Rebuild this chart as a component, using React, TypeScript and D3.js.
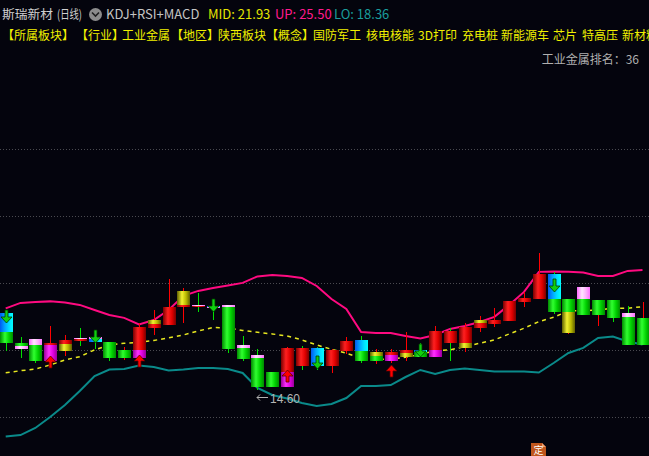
import React from "react";
import * as d3 from "d3";

const W = 649;
const H = 456;

// ---- header ----
const stockName = "斯瑞新材";
const periodName = "(日线)";
const indicatorName = "KDJ+RSI+MACD";
const midValue = 21.93;
const upValue = 25.5;
const loValue = 18.36;
const sectorTags = ["【所属板块】", "【行业】", "工业金属", "【地区】", "陕西板块", "【概念】", "国防军工", "核电核能", "3D打印", "充电桩", "新能源车", "芯片", "特高压", "新材料"];
const sectorTagX = [2, 76, 122, 171, 218, 266, 313, 366, 418, 462, 501, 553, 582, 622];
const rankLabel = "工业金属排名：36";

// ---- bars (prices) ----
const highs = [21.78, 19.42, 19.24, 20.42, 19.6, 20.24, 20.05, 18.96, 18.51, 20.69, 21.87, 24.69, 23.87, 23.42, 22.87, 22.33, 19.51, 18.33, 16.24, 18.51, 18.6, 18.51, 18.33, 19.42, 19.51, 18.33, 18.33, 19.87, 18.87, 20.42, 20.24, 20.69, 21.33, 22.05, 22.69, 23.51, 27.05, 25.33, 22.87, 23.96, 22.78, 22.78, 22.24, 22.6];
const lows = [18.15, 17.51, 17.05, 17.24, 17.69, 18.6, 18.33, 17.24, 17.33, 17.51, 19.6, 20.51, 20.69, 21.69, 20.96, 17.96, 17.24, 14.6, 14.87, 14.87, 16.42, 16.42, 16.15, 17.87, 17.05, 16.96, 17.05, 17.24, 17.6, 17.6, 17.24, 18.05, 19.87, 20.33, 20.87, 22.15, 22.87, 21.51, 19.69, 21.42, 20.42, 20.78, 18.69, 18.69];
const bodyTops = [21.6, 18.87, 19.24, 18.87, 19.15, 19.33, 19.42, 18.96, 18.24, 20.33, 20.96, 22.15, 23.6, 22.33, 22.24, 22.33, 18.69, 17.78, 16.24, 18.42, 18.42, 18.42, 18.24, 19.05, 19.15, 18.05, 18.05, 18.24, 18.24, 19.96, 19.96, 20.33, 20.96, 20.96, 22.69, 22.96, 25.15, 25.15, 22.87, 23.96, 22.78, 22.78, 21.6, 21.15];
// price where the upper colour segment meets the lower one
const bodySplits = [19.87, 18.6, 18.69, 18.69, 18.78, 19.24, 19.24, 17.51, 17.51, 18.24, 20.6, 20.51, 22.33, 22.24, 22.15, 22.15, 18.42, 17.51, 14.87, 16.24, 16.78, 16.78, 16.78, 18.15, 18.15, 17.69, 17.78, 17.96, 18.05, 18.24, 18.87, 18.87, 20.69, 20.6, 20.87, 22.6, 22.87, 22.87, 21.69, 22.87, 21.42, 21.15, 21.24, 18.69];
const bodyBottoms = [18.87, 18.33, 17.24, 17.24, 18.15, 19.05, 18.96, 17.51, 17.51, 17.51, 20.24, 20.51, 22.15, 22.15, 22.05, 18.33, 17.42, 14.87, 14.87, 14.87, 16.78, 16.78, 16.78, 18.15, 17.24, 17.24, 17.24, 17.6, 17.6, 17.6, 18.87, 18.42, 20.24, 20.6, 20.87, 22.6, 22.87, 21.69, 19.78, 21.42, 21.42, 21.15, 18.69, 18.69];
const upperColors = ["cyan", "green", "pink", "red", "red", "pink", "pink", "green", "green", "red", "yellow", "red", "yellow", "pink", "cyan", "pink", "pink", "pink", "green", "red", "red", "cyan", "red", "red", "cyan", "yellow", "red", "red", "cyan", "red", "red", "red", "yellow", "red", "red", "red", "red", "cyan", "green", "pink", "green", "green", "pink", "green"];
const lowerColors = ["green", "pink", "green", "magenta", "yellow", "red", "cyan", "green", "green", "magenta", "red", "red", "red", "red", "pink", "green", "green", "green", "green", "magenta", "red", "cyan", "red", "red", "green", "green", "magenta", "yellow", "green", "magenta", "red", "yellow", "red", "red", "red", "red", "red", "green", "yellow", "green", "green", "green", "green", "green"];
const wickColors = ["green", "green", "green", "red", "red", "green", "green", "green", "red", "red", "red", "red", "red", "green", "green", "green", "green", "green", "green", "red", "green", "green", "red", "red", "green", "red", "red", "red", "green", "red", "green", "red", "red", "red", "red", "red", "red", "green", "red", "green", "red", "green", "green", "red"];

// ---- Bollinger bands ----
const bollUp = [22.01, 22.51, 22.6, 22.65, 22.55, 22.33, 21.87, 21.42, 21.15, 20.55, 20.96, 21.87, 23.15, 23.6, 23.87, 24.1, 24.33, 24.92, 25.05, 24.96, 24.78, 24.05, 22.87, 21.96, 19.87, 19.78, 19.78, 19.51, 19.28, 19.6, 20.15, 20.42, 20.78, 21.24, 22.33, 23.51, 25.33, 25.37, 25.33, 25.28, 24.96, 24.96, 25.42, 25.5];
const bollMid = [16.17, 16.35, 16.51, 16.87, 17.33, 17.63, 18.24, 18.69, 18.85, 18.92, 19.1, 19.33, 19.6, 19.96, 20.28, 20.24, 20.01, 19.85, 19.69, 19.51, 19.15, 18.69, 18.3, 17.94, 17.48, 17.39, 17.39, 17.57, 17.83, 18.17, 18.24, 18.54, 18.85, 19.15, 19.69, 20.21, 20.81, 21.21, 21.78, 21.81, 21.87, 22.03, 22.03, 22.17];
const bollLo = [10.37, 10.51, 11.15, 12.15, 13.24, 14.51, 15.87, 16.46, 16.51, 16.83, 16.69, 16.37, 16.46, 16.6, 16.6, 16.51, 16.15, 14.78, 14.15, 13.83, 13.42, 13.15, 13.33, 13.87, 14.96, 14.96, 15.05, 15.78, 16.42, 16.05, 16.42, 16.55, 16.42, 16.28, 16.28, 16.28, 16.19, 17.05, 17.96, 18.42, 19.33, 19.46, 19.01, 18.74];

// ---- signals ----
const buyBars = [3, 9, 19, 26];
const buyPrices = [17.69, 17.78, 16.42, 16.87];
const sellBars = [0, 6, 14, 21, 28, 37];
const sellPrices = [20.69, 18.87, 21.69, 16.51, 17.6, 23.51];
const lowBar = 17;
const lowPrice = 14.6;

const gradients: Record<string, string[]> = {
  red: ["#7a0000", "#ff2020", "#e00000", "#7a0000"],
  green: ["#008a00", "#30ff30", "#00d000", "#008a00"],
  yellow: ["#5e5e00", "#f2f230", "#b8b800", "#5e5e00"],
  cyan: ["#0058f0", "#00a8ff", "#00e0ff", "#00ffff"],
  pink: ["#ff66ff", "#ffe6ff", "#ffb0ff", "#ff70ff"],
  magenta: ["#9a009a", "#ff30ff", "#e000e0", "#9a009a"],
};
const wickPalette: Record<string, string> = { red: "#ff0000", green: "#00e000" };

const gridTop = 149;
const gridStep = 67;
const gridCount = 5;

export default function App() {
  const x = d3.scaleLinear().domain([0, highs.length - 1]).range([5.7, 642.5]);
  const y = d3.scaleLinear().domain([lowPrice, upValue]).range([390, 270]);
  const bodyW = 13;

  const line = (vals: number[]) =>
    d3.line<number>().x((_, i) => x(i)).y((d) => y(d)).curve(d3.curveLinear)(vals) || "";

  const cx = (i: number) => Math.round(x(i));
  const cjk = "'Noto Sans CJK SC', 'Noto Sans', sans-serif";

  const lowX = cx(lowBar);
  const lowY = Math.round(y(lowPrice)) + 7.5;

  return (
    <svg
      width={W}
      height={H}
      style={{ position: "fixed", left: 0, top: 0, display: "block", background: "#04040d" }}
    >
      <defs>
        {Object.entries(gradients).map(([k, s]) => (
          <linearGradient key={k} id={`g-${k}`} x1="0" x2="1" y1="0" y2="0">
            <stop offset="0" stopColor={s[0]} />
            <stop offset="0.38" stopColor={s[1]} />
            <stop offset="0.7" stopColor={s[2]} />
            <stop offset="1" stopColor={s[3]} />
          </linearGradient>
        ))}
      </defs>
      <rect width={W} height={H} fill="#04040d" />

      {/* dotted grid */}
      {d3.range(gridCount).map((k) => (
        <line
          key={k}
          x1={0}
          x2={W}
          y1={gridTop + k * gridStep + 0.5}
          y2={gridTop + k * gridStep + 0.5}
          stroke="#4a4a50"
          strokeWidth={1}
          strokeDasharray="1 2"
        />
      ))}

      {/* header */}
      <text x={2} y={19} fontFamily={cjk} fontSize={12.5} fill="#cfcfcf" textLength={51} lengthAdjust="spacingAndGlyphs">
        {stockName}
      </text>
      <text x={57} y={19} fontFamily={cjk} fontSize={12.5} fill="#cfcfcf" textLength={25} lengthAdjust="spacingAndGlyphs">
        {periodName}
      </text>
      <circle cx={95.5} cy={14.5} r={6.5} fill="#8c8c8c" />
      <path d="M92,12.5 L95.5,16 L99,12.5" fill="none" stroke="#202020" strokeWidth={1.6} />
      <text x={106} y={19} fontFamily={cjk} fontSize={13} fill="#c4c4c4">
        {indicatorName}
      </text>
      <text x={208} y={19} fontFamily={cjk} fontSize={13} fill="#e4e400">
        {`MID: ${midValue.toFixed(2)}`}
      </text>
      <text x={275} y={19} fontFamily={cjk} fontSize={13} fill="#ff1a8c">
        {`UP: ${upValue.toFixed(2)}`}
      </text>
      <text x={334} y={19} fontFamily={cjk} fontSize={13} fill="#1a9c9c">
        {`LO: ${loValue.toFixed(2)}`}
      </text>
      {sectorTags.map((t, k) => (
        <text key={t} x={sectorTagX[k]} y={40} fontFamily={cjk} fontSize={12} fill="#f0f000">
          {t}
        </text>
      ))}
      <text x={639} y={64} textAnchor="end" fontFamily={cjk} fontSize={12} fill="#b0b0b0">
        {rankLabel}
      </text>

      {/* Bollinger bands */}
      <path d={line(bollUp)} fill="none" stroke="#ff0a80" strokeWidth={2} />
      <path d={line(bollLo)} fill="none" stroke="#0a8a8a" strokeWidth={2} />
      <path d={line(bollMid)} fill="none" stroke="#e8e820" strokeWidth={1.5} strokeDasharray="4 4" />

      {/* bars */}
      {highs.map((h, i) => {
        const c = cx(i);
        const left = c - Math.floor(bodyW / 2);
        const yt = Math.round(y(bodyTops[i]));
        const ys = Math.round(y(bodySplits[i]));
        const yb = Math.max(Math.round(y(bodyBottoms[i])), yt + 1);
        return (
          <g key={i}>
            <line
              x1={c + 0.5}
              x2={c + 0.5}
              y1={Math.round(y(h))}
              y2={Math.round(y(lows[i]))}
              stroke={wickPalette[wickColors[i]]}
              strokeWidth={1}
            />
            <rect x={left} y={yt} width={bodyW} height={Math.max(ys - yt, 0)} fill={`url(#g-${upperColors[i]})`} />
            <rect x={left} y={ys} width={bodyW} height={Math.max(yb - ys, 0)} fill={`url(#g-${lowerColors[i]})`} />
          </g>
        );
      })}

      {/* buy arrows */}
      {buyBars.map((b, k) => {
        const c = cx(b) + 0.5;
        const t = Math.round(y(buyPrices[k]));
        const p = `M${c},${t} L${c + 5.5},${t + 6} L${c + 1.5},${t + 6} L${c + 1.5},${t + 12} L${c - 1.5},${t + 12} L${c - 1.5},${t + 6} L${c - 5.5},${t + 6} Z`;
        return <path key={`b${k}`} d={p} fill="#ff0000" stroke="#5a0000" strokeWidth={0.8} />;
      })}

      {/* sell arrows */}
      {sellBars.map((b, k) => {
        const c = cx(b) + 0.5;
        const t = Math.round(y(sellPrices[k]));
        const p = `M${c},${t} L${c + 5.5},${t - 6} L${c + 1.5},${t - 6} L${c + 1.5},${t - 13} L${c - 1.5},${t - 13} L${c - 1.5},${t - 6} L${c - 5.5},${t - 6} Z`;
        return <path key={`s${k}`} d={p} fill="#10d010" stroke="#003a00" strokeWidth={0.8} />;
      })}

      {/* lowest price marker */}
      <path
        d={`M${lowX},${lowY} L${lowX + 11},${lowY} M${lowX + 3},${lowY - 3} L${lowX},${lowY} L${lowX + 3},${lowY + 3}`}
        fill="none"
        stroke="#b4b4b4"
        strokeWidth={1}
      />
      <text x={lowX + 13} y={lowY + 5} fontFamily="'Liberation Sans', Arial, sans-serif" fontSize={12} fill="#b4b4b4">
        {lowPrice.toFixed(2)}
      </text>

      {/* badge */}
      <path d="M531,443 L542,443 L546,447 L546,456 L531,456 Z" fill="#c0561c" />
      <path d="M542,443 L542,447 L546,447 Z" fill="#f0a070" />
      <text x={538.5} y={453.5} textAnchor="middle" fontFamily={cjk} fontSize={10} fill="#ffffff">
        定
      </text>
    </svg>
  );
}
